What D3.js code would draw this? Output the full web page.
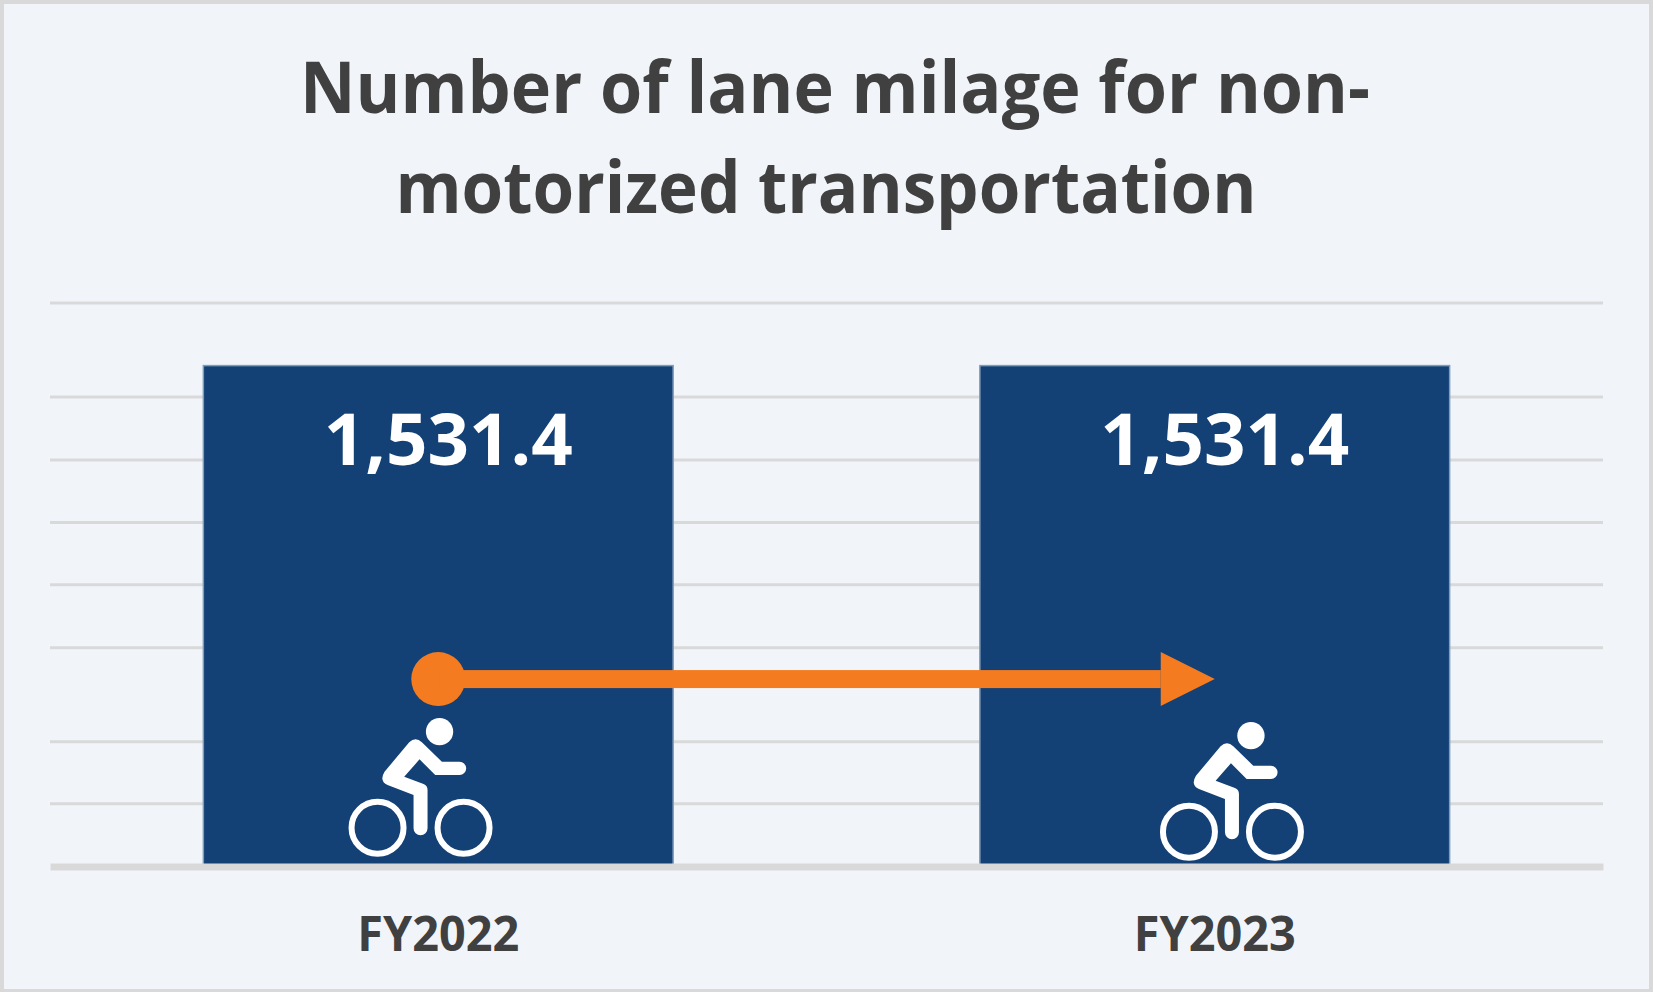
<!DOCTYPE html>
<html>
<head>
<meta charset="utf-8">
<script src="https://d3js.org/d3.v7.min.js"></script>
<style>
  html, body { margin: 0; padding: 0; background: #f1f5fa; }
  svg { display: block; }
  text { font-family: "Open Sans", sans-serif; font-weight: 700; font-variant-ligatures: none; }
</style>
</head>
<body>
<svg id="chart"></svg>
<script>
// chart data
const years = ['FY2022', 'FY2023']
const milage = [1531.4, 1531.4]
const gridValues = [193, 383, 670, 863, 1053, 1244, 1437, 1724]
const titleLines = ['Number of lane milage for non-', 'motorized transportation']
const arrowValue = 573

const width = 1653
const height = 992
const plot = { left: 50, right: 1603, top: 302.6, bottom: 866.5 }
const fmt = d3.format(',.1f')

const svg = d3.select('#chart').attr('width', width).attr('height', height)

// card background and border
svg.append('rect')
  .attr('x', 2)
  .attr('y', 2)
  .attr('width', width - 4)
  .attr('height', height - 3)
  .attr('fill', '#f1f5fa')
  .attr('stroke', '#d9d9d9')
  .attr('stroke-width', 4)

const x = d3.scaleBand()
  .domain(years)
  .range([plot.left, plot.right])
  .paddingInner(0.395)
  .paddingOuter(0.1975)

const y = d3.scaleLinear()
  .domain([0, 1724])
  .range([plot.bottom, plot.top])

// title
svg.append('g').selectAll('text')
  .data(titleLines)
  .join('text')
  .attr('x', (d, i) => [835, 826][i])
  .attr('y', (d, i) => 113 + i * 100)
  .attr('text-anchor', 'middle')
  .attr('font-size', 71)
  .attr('fill', '#404040')
  .attr('textLength', (d, i) => [1070, 861][i])
  .attr('lengthAdjust', 'spacingAndGlyphs')
  .text(d => d)

// grid lines
const grid = svg.append('g')
  .attr('transform', `translate(${plot.left},0)`)
  .call(d3.axisLeft(y).tickValues(gridValues).tickSize(-(plot.right - plot.left)).tickFormat(''))
grid.select('.domain').remove()
grid.selectAll('line').attr('stroke', '#d9d9d9').attr('stroke-width', 3)

// bars
svg.append('g').selectAll('rect')
  .data(milage)
  .join('rect')
  .attr('x', (d, i) => x(years[i]))
  .attr('y', d => y(d))
  .attr('width', x.bandwidth())
  .attr('height', d => y(0) - y(d))
  .attr('fill', '#134075')
  .attr('stroke', '#7f9cbc')
  .attr('stroke-width', 1.5)

// value labels
svg.append('g').selectAll('text')
  .data(milage)
  .join('text')
  .attr('x', (d, i) => x(years[i]) + x.bandwidth() / 2 + 10)
  .attr('y', d => y(d) + 99)
  .attr('text-anchor', 'middle')
  .attr('font-size', 72)
  .attr('fill', '#ffffff')
  .attr('textLength', 249)
  .attr('lengthAdjust', 'spacingAndGlyphs')
  .text(d => fmt(d))

// baseline and category labels
const xAxis = svg.append('g')
  .attr('transform', `translate(0,${plot.bottom})`)
  .call(d3.axisBottom(x).tickSize(0).tickPadding(50))
xAxis.select('.domain').attr('stroke', '#d9d9d9').attr('stroke-width', 7)
xAxis.selectAll('text')
  .attr('font-family', '"Open Sans", sans-serif')
  .attr('font-size', 48)
  .attr('fill', '#404040')
  .attr('textLength', 162)
  .attr('lengthAdjust', 'spacingAndGlyphs')

// orange arrow from one year to the next
const arrowStart = x(years[0]) + x.bandwidth() / 2
const arrowEnd = x(years[1]) + x.bandwidth() / 2
const arrowY = y(arrowValue)
const arrow = svg.append('g').attr('fill', '#f47b20')
arrow.append('circle')
  .attr('cx', arrowStart)
  .attr('cy', arrowY)
  .attr('r', 27)
arrow.append('rect')
  .attr('x', arrowStart)
  .attr('y', arrowY - 9)
  .attr('width', arrowEnd - 54 - arrowStart)
  .attr('height', 18)
arrow.append('path')
  .attr('d', `M${arrowEnd - 54},${arrowY - 27}L${arrowEnd},${arrowY}L${arrowEnd - 54},${arrowY + 27}Z`)

// cyclist icons, sized off the picture
const riderBody = 'M-34,-256 Q-15,-275 4,-256 L64,-198 H117 A20,20 0 0 1 117,-158 H44 L-3,-205 L-49,-153 L9,-131 Q21,-126 21,-113 V2 A21,21 0 0 1 -21,2 V-98 L-99,-128 Q-125,-140 -108,-168 Z'
const iconOffset = [[-17.7, 827.7], [17.2, 831.7]]

const icons = svg.append('g').selectAll('g')
  .data(years)
  .join('g')
  .attr('transform', (d, i) => `translate(${x(d) + x.bandwidth() / 2 + iconOffset[i][0]},${iconOffset[i][1]}) scale(${1 / 3})`)

icons.append('path').attr('d', riderBody).attr('fill', '#ffffff')
icons.append('circle').attr('cx', 57).attr('cy', -288).attr('r', 41).attr('fill', '#ffffff')
icons.selectAll('circle.wheel')
  .data([-129, 129])
  .join('circle')
  .attr('class', 'wheel')
  .attr('cx', d => d)
  .attr('cy', 0)
  .attr('r', 78)
  .attr('fill', 'none')
  .attr('stroke', '#ffffff')
  .attr('stroke-width', 18)
</script>
</body>
</html>
